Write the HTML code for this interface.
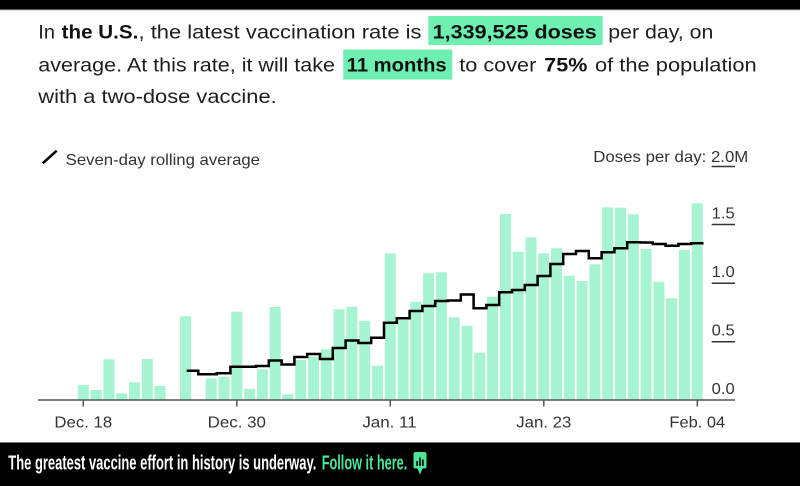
<!DOCTYPE html>
<html>
<head>
<meta charset="utf-8">
<style>
  html, body { margin: 0; padding: 0; background: #fff; }
  body { width: 800px; height: 486px; overflow: hidden; }
  svg { display: block; }
  text { font-family: "Liberation Sans", Arial, sans-serif; }
</style>
</head>
<body>
<svg width="800" height="486" viewBox="0 0 800 486" xmlns="http://www.w3.org/2000/svg">
  <rect x="0" y="0" width="800" height="486" fill="#ffffff"/>
  <!-- top bar -->
  <rect x="0" y="0" width="800" height="9.5" fill="#000"/>
  <rect x="0" y="9.5" width="800" height="1" fill="#bbb"/>

  <!-- highlights -->
  <rect x="428.3" y="16" width="174.4" height="29" fill="#6ff0b3"/>
  <rect x="343.3" y="49.5" width="109" height="30" fill="#6ff0b3"/>

  <!-- headline text -->
  <g font-size="19.5" fill="#1e1e1e">
    <text x="38.3" y="38.5" textLength="16.7" lengthAdjust="spacingAndGlyphs">In</text>
    <text x="61.7" y="38.5" textLength="76.6" lengthAdjust="spacingAndGlyphs" font-weight="bold" fill="#111">the U.S.</text>
    <text x="138.5" y="38.5" textLength="283" lengthAdjust="spacingAndGlyphs">, the latest vaccination rate is</text>
    <text x="432.7" y="38.5" textLength="164" lengthAdjust="spacingAndGlyphs" font-weight="bold" fill="#111">1,339,525 doses</text>
    <text x="608.3" y="38.5" textLength="105" lengthAdjust="spacingAndGlyphs">per day, on</text>

    <text x="38.3" y="71.5" textLength="296.7" lengthAdjust="spacingAndGlyphs">average. At this rate, it will take</text>
    <text x="346.7" y="71.5" textLength="100" lengthAdjust="spacingAndGlyphs" font-weight="bold" fill="#111">11 months</text>
    <text x="459.3" y="71.5" textLength="77" lengthAdjust="spacingAndGlyphs">to cover</text>
    <text x="544.3" y="71.5" textLength="43" lengthAdjust="spacingAndGlyphs" font-weight="bold" fill="#111">75%</text>
    <text x="595" y="71.5" textLength="161.7" lengthAdjust="spacingAndGlyphs">of the population</text>

    <text x="38.3" y="103" textLength="238.4" lengthAdjust="spacingAndGlyphs">with a two-dose vaccine.</text>
  </g>

  <!-- legend -->
  <line x1="42.7" y1="163.3" x2="56.7" y2="150.7" stroke="#000" stroke-width="2.5"/>
  <text x="65.7" y="165" font-size="16" fill="#333" textLength="194.3" lengthAdjust="spacingAndGlyphs">Seven-day rolling average</text>
  <text x="593.3" y="162" font-size="16" fill="#333" textLength="155" lengthAdjust="spacingAndGlyphs">Doses per day: 2.0M</text>
  <line x1="711.7" y1="166.5" x2="735" y2="166.5" stroke="#333" stroke-width="1.5"/>

  <!-- bars -->
  <g fill="#a6f4d1">
    <rect x="77.8" y="385" width="11" height="15"/>
    <rect x="90.6" y="390" width="11" height="10"/>
    <rect x="103.4" y="359.3" width="11" height="40.7"/>
    <rect x="116.2" y="393.3" width="11" height="6.7"/>
    <rect x="129.0" y="382.3" width="11" height="17.7"/>
    <rect x="141.8" y="359" width="11" height="41"/>
    <rect x="154.5" y="386" width="11" height="14"/>
    <rect x="180.1" y="316.3" width="11" height="83.7"/>
    <rect x="205.7" y="378.3" width="11" height="21.7"/>
    <rect x="218.5" y="376.7" width="11" height="23.3"/>
    <rect x="231.3" y="311.7" width="11" height="88.3"/>
    <rect x="244.1" y="389" width="11" height="11"/>
    <rect x="256.9" y="369.3" width="11" height="30.7"/>
    <rect x="269.7" y="307" width="11" height="93"/>
    <rect x="282.4" y="394.3" width="11" height="5.7"/>
    <rect x="295.2" y="360" width="11" height="40"/>
    <rect x="308.0" y="356.7" width="11" height="43.3"/>
    <rect x="320.8" y="349.3" width="11" height="50.7"/>
    <rect x="333.6" y="309.3" width="11" height="90.7"/>
    <rect x="346.4" y="306.7" width="11" height="93.3"/>
    <rect x="359.2" y="321" width="11" height="79"/>
    <rect x="372.0" y="365.7" width="11" height="34.3"/>
    <rect x="384.8" y="253.3" width="11" height="146.7"/>
    <rect x="397.6" y="320" width="11" height="80"/>
    <rect x="410.3" y="301.7" width="11" height="98.3"/>
    <rect x="423.1" y="273.3" width="11" height="126.7"/>
    <rect x="435.9" y="272.3" width="11" height="127.7"/>
    <rect x="448.7" y="317.3" width="11" height="82.7"/>
    <rect x="461.5" y="325.7" width="11" height="74.3"/>
    <rect x="474.3" y="352.7" width="11" height="47.3"/>
    <rect x="487.1" y="296.7" width="11" height="103.3"/>
    <rect x="499.9" y="214" width="11" height="186"/>
    <rect x="512.7" y="251.7" width="11" height="148.3"/>
    <rect x="525.5" y="237.3" width="11" height="162.7"/>
    <rect x="538.2" y="253.3" width="11" height="146.7"/>
    <rect x="551.0" y="248.3" width="11" height="151.7"/>
    <rect x="563.8" y="275.7" width="11" height="124.3"/>
    <rect x="576.6" y="281" width="11" height="119"/>
    <rect x="589.4" y="264.3" width="11" height="135.7"/>
    <rect x="602.2" y="207.3" width="11" height="192.7"/>
    <rect x="615.0" y="207.7" width="11" height="192.3"/>
    <rect x="627.8" y="214.3" width="11" height="185.7"/>
    <rect x="640.6" y="249" width="11" height="151"/>
    <rect x="653.4" y="281.7" width="11" height="118.3"/>
    <rect x="666.1" y="298.3" width="11" height="101.7"/>
    <rect x="678.9" y="250" width="11" height="150"/>
    <rect x="691.7" y="203.3" width="11" height="196.7"/>
  </g>

  <!-- rolling average line -->
  <path d="M186.7,370.7 H198.3 V374.3 H216.7 V373.3 H230.4 V366.7 H256 V366 H268.8 V360.5 H281.6 V364.5 H294.4 V357 H307.2 V354 H320 V359 H332.8 V348 H345.6 V340.5 H358.4 V343 H371.2 V337.7 H384 V322.7 H396.8 V318.3 H409.6 V311 H422.4 V306 H435.2 V301 H448 V300.5 H460.8 V294.5 H473.6 V308.3 H486.4 V305 H499.2 V292.3 H512 V290 H524.8 V285 H537.6 V276 H550.4 V264 H563.2 V254 H576 V251 H588.8 V258.3 H601.6 V252.3 H614.4 V248.3 H627.2 V242.3 H640 V242.5 H652.8 V244 H665.6 V245.7 H678.4 V244 H691.2 V243.3 H703.5"
        fill="none" stroke="#000" stroke-width="2.5" stroke-linejoin="miter"/>

  <!-- y axis labels -->
  <g font-size="16" fill="#333">
    <text x="711.7" y="218.5" textLength="23" lengthAdjust="spacingAndGlyphs">1.5</text>
    <text x="711.7" y="277" textLength="23" lengthAdjust="spacingAndGlyphs">1.0</text>
    <text x="711.7" y="335.5" textLength="23" lengthAdjust="spacingAndGlyphs">0.5</text>
    <text x="711.7" y="394" textLength="23" lengthAdjust="spacingAndGlyphs">0.0</text>
  </g>
  <g stroke="#333" stroke-width="1.5">
    <line x1="711.7" y1="224.5" x2="735" y2="224.5"/>
    <line x1="711.7" y1="283.2" x2="735" y2="283.2"/>
    <line x1="711.7" y1="341.7" x2="735" y2="341.7"/>
  </g>

  <!-- x axis -->
  <line x1="38" y1="400" x2="735" y2="400" stroke="#555" stroke-width="1.6"/>
  <g stroke="#555" stroke-width="1.5">
    <line x1="83.3" y1="400" x2="83.3" y2="406.5"/>
    <line x1="236.8" y1="400" x2="236.8" y2="406.5"/>
    <line x1="390.3" y1="400" x2="390.3" y2="406.5"/>
    <line x1="543.8" y1="400" x2="543.8" y2="406.5"/>
    <line x1="697.3" y1="400" x2="697.3" y2="406.5"/>
  </g>
  <g font-size="16" fill="#333" text-anchor="middle">
    <text x="83.3" y="427.3" textLength="57.7" lengthAdjust="spacingAndGlyphs">Dec. 18</text>
    <text x="236.8" y="427.3" textLength="58.3" lengthAdjust="spacingAndGlyphs">Dec. 30</text>
    <text x="389.5" y="427.3" textLength="54.3" lengthAdjust="spacingAndGlyphs">Jan. 11</text>
    <text x="543.8" y="427.3" textLength="55" lengthAdjust="spacingAndGlyphs">Jan. 23</text>
    <text x="697.3" y="427.3" textLength="55.7" lengthAdjust="spacingAndGlyphs">Feb. 04</text>
  </g>

  <!-- bottom bar -->
  <rect x="0" y="442" width="800" height="44" fill="#000"/>
  <rect x="0" y="442" width="800" height="1" fill="#777"/>
  <text x="8.3" y="469.3" font-size="20" font-weight="bold" fill="#fff" textLength="308" lengthAdjust="spacingAndGlyphs">The greatest vaccine effort in history is underway.</text>
  <text x="321.7" y="469.3" font-size="20" font-weight="bold" fill="#4de597" textLength="85.6" lengthAdjust="spacingAndGlyphs">Follow it here.</text>
  <rect x="413.5" y="452" width="13" height="16.5" rx="2" fill="#4de597"/>
  <polygon points="417.2,468 422.8,468 420,474.5" fill="#4de597"/>
  <g fill="#000">
    <rect x="416.3" y="461" width="1.6" height="5"/>
    <rect x="419.2" y="457.5" width="1.6" height="8.5"/>
    <rect x="422.1" y="459.5" width="1.6" height="6.5"/>
  </g>
</svg>
</body>
</html>
